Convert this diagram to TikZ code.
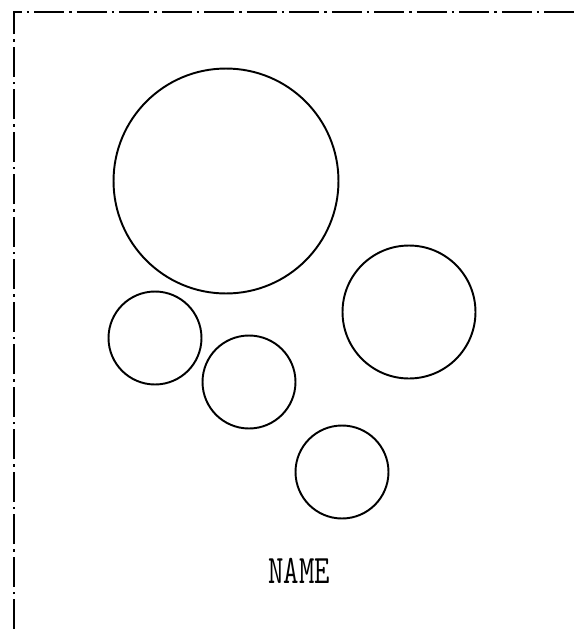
\documentclass[tikz,border=0pt]{standalone}
\usetikzlibrary{positioning}

\begin{document}
\begin{tikzpicture}[
    x=0.02cm, y=-0.02cm,
    % Plain outlined circles
    ring/.style={circle, draw=black, line width=1.1pt, inner sep=0pt},
    % Dash-dot frame line
    frame_line/.style={draw=black, line width=0.8pt,
        dash pattern=on 0.6cm off 0.1cm on 0.05cm off 0.1cm}
]
    \useasboundingbox (0,0) rectangle (579,629);

    % --- FRAME ---
    \coordinate (corner) at (14,12);
    \coordinate (top_end) at (579,12);
    \coordinate (left_end) at (14,629);
    \draw[frame_line] (left_end) -- (corner) -- (top_end);

    % --- CIRCLES ---
    \node[ring, minimum size=4.5cm] (big) at (226,181) {};
    \node[ring, minimum size=2.66cm] (right) at (409,312) {};
    \node[ring, minimum size=1.86cm] (left) at (155,338) {};
    \node[ring, minimum size=1.86cm] (middle) at (249,382) {};
    \node[ring, minimum size=1.86cm] (bottom) at (342,472) {};

    % --- LABEL ---
    \node[font=\fontsize{23}{23}\selectfont\ttfamily, xscale=0.74] (name) at (299,571) {NAME};

\end{tikzpicture}
\end{document}
